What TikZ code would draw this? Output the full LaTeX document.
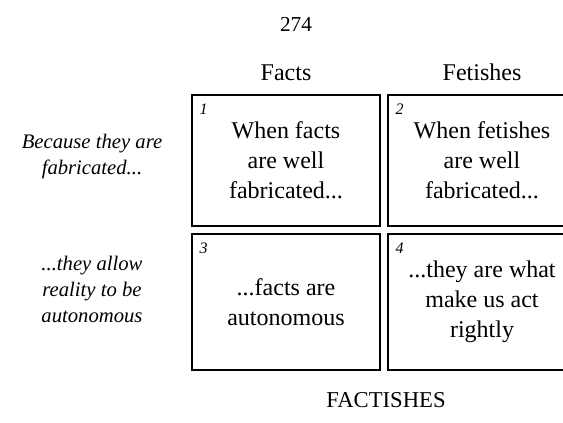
\documentclass[tikz,border=0pt]{standalone}
\usepackage{fontspec}
\setmainfont{Liberation Serif}
\usetikzlibrary{positioning}

\begin{document}
\begin{tikzpicture}[x=0.75pt,y=-0.75pt,
  cell/.style={draw,line width=1.1pt,minimum width=141pt,minimum height=98.25pt,align=center,
    font=\fontsize{18}{22.5}\selectfont},
  num/.style={inner sep=0pt,font=\fontsize{12}{13}\selectfont\itshape},
  head/.style={inner sep=0pt,font=\fontsize{18}{21}\selectfont},
  side/.style={align=center,font=\fontsize{15.5}{19.5}\selectfont\itshape}]
  \useasboundingbox (0,0) rectangle (563,422);
  \clip (0,0) rectangle (563,422);
  \node(page) at (296,24){\fontsize{16}{18}\selectfont 274};
  \node[cell](b1) at (286,160.5){When facts\\are well\\fabricated...};
  \node[cell](b2) at (482,160.5){When fetishes\\are well\\fabricated...};
  \node[cell,minimum height=102pt](b3) at (286,302){...facts are\\autonomous};
  \node[cell,minimum height=102pt](b4) at (482,302){...they are what\\make us act\\rightly};
  \node[head,above=10pt of b1](facts){Facts};
  \node[head,above=10pt of b2](fetishes){Fetishes};
  \node[num,anchor=north west] at ([xshift=6pt,yshift=-7pt]b1.north west)(n1){1};
  \node[num,anchor=north west] at ([xshift=6pt,yshift=-7pt]b2.north west)(n2){2};
  \node[num,anchor=north west] at ([xshift=6pt,yshift=-7pt]b3.north west)(n3){3};
  \node[num,anchor=north west] at ([xshift=6pt,yshift=-7pt]b4.north west)(n4){4};
  \node[side](because) at (92,157){Because they are\\fabricated...};
  \node[side](allow) at (92,289){...they allow\\reality to be\\autonomous};
  \node(factishes) at (386,400){\fontsize{17}{20}\selectfont FACTISHES};
\end{tikzpicture}
\end{document}
